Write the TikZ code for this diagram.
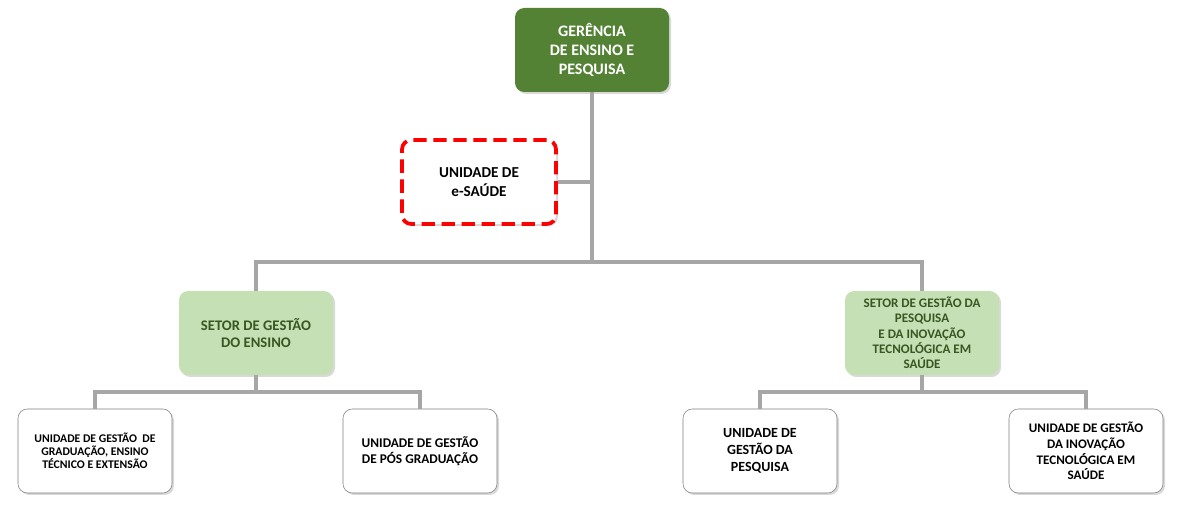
\documentclass[tikz,border=0pt]{standalone}
\usepackage{fontspec}
\setmainfont{Carlito}
\usetikzlibrary{positioning,shadows}
\definecolor{darkgreen}{HTML}{548235}
\definecolor{lightgreen}{HTML}{C5E0B4}
\definecolor{textgreen}{HTML}{385723}
\definecolor{linegray}{HTML}{A6A6A6}
\definecolor{edgegray}{HTML}{7F7F7F}
\tikzset{unit/.style={rounded corners=7pt,minimum width=115.5pt,minimum height=63pt,align=center,
  inner sep=2pt,drop shadow={shadow xshift=1.5pt,shadow yshift=-1.5pt,opacity=0.3}},
  head/.style={unit,fill=darkgreen,text=white,font=\bfseries\fontsize{12}{14.4}\selectfont},
  sector/.style={unit,fill=lightgreen,text=textgreen},
  leaf/.style={unit,fill=white,draw=edgegray,thin},
  link/.style={draw=linegray,line width=2.6pt}}

\begin{document}
\begin{tikzpicture}[x=0.75pt,y=-0.75pt]
\useasboundingbox (0,0) rectangle (1178,505);
\node[head] (gep) at (592,50) {GERÊNCIA\\DE ENSINO E\\PESQUISA};
\node[leaf,preaction={draw=edgegray,thin},draw=red,line width=2.8pt,dash pattern=on 10pt off 5pt,
  font=\bfseries\fontsize{11.4}{14}\selectfont] (esaude) at (479,182) {UNIDADE DE\\e-SAÚDE};
\node[sector,font=\bfseries\fontsize{11}{13}\selectfont] (ensino) at (256,333) {SETOR DE GESTÃO\\DO ENSINO};
\node[sector,font=\bfseries\fontsize{9.8}{11.5}\selectfont] (pesquisa) at (922,333)
  {SETOR DE GESTÃO DA\\PESQUISA\\E DA INOVAÇÃO\\TECNOLÓGICA EM\\SAÚDE};
\node[leaf,font=\bfseries\fontsize{8.8}{9.8}\selectfont] (grad) at (95,451)
  {UNIDADE DE GESTÃO~ DE\\GRADUAÇÃO, ENSINO\\TÉCNICO E EXTENSÃO};
\node[leaf,font=\bfseries\fontsize{10}{12}\selectfont] (pos) at (420,451) {UNIDADE DE GESTÃO\\DE PÓS GRADUAÇÃO};
\node[leaf,font=\bfseries\fontsize{10.5}{12.5}\selectfont] (upesq) at (760,451) {UNIDADE DE\\GESTÃO DA\\PESQUISA};
\node[leaf,font=\bfseries\fontsize{9.8}{11.8}\selectfont] (inov) at (1086,451)
  {UNIDADE DE GESTÃO\\DA INOVAÇÃO\\TECNOLÓGICA EM\\SAÚDE};
% tree lines
\coordinate (hub) at (592,262);
\coordinate (ensinohub) at (256,392);
\coordinate (pesqhub) at (922,392);
\draw[link] (gep.south) -- (hub);
\draw[link] (esaude.east) -- (esaude.east -| gep.south);
\draw[link] (ensino.north) |- (hub) -| (pesquisa.north);
\draw[link] (ensino.south) -- (ensinohub);
\draw[link] (grad.north) |- (ensinohub) -| (pos.north);
\draw[link] (pesquisa.south) -- (pesqhub);
\draw[link] (upesq.north) |- (pesqhub) -| (inov.north);
\end{tikzpicture}
\end{document}
